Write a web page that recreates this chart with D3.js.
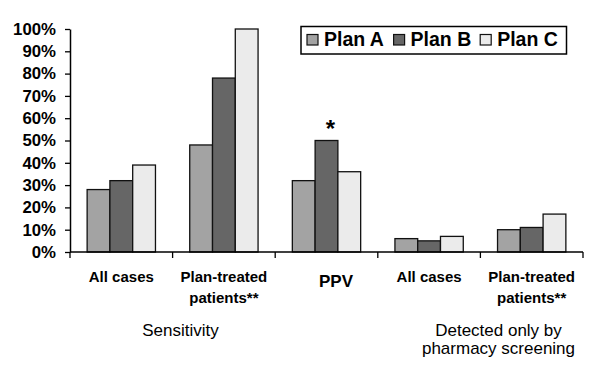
<!DOCTYPE html>
<html><head><meta charset="utf-8">
<script src="https://cdn.jsdelivr.net/npm/d3@7"></script>
<style>html,body{margin:0;padding:0;background:#fff;}svg{display:block;font-family:"Liberation Sans",Arial,sans-serif;}</style>
</head><body>
<svg id="chart" width="600" height="374"></svg>
<script>
const categoryIds = ["sens-all", "sens-plan", "ppv", "det-all", "det-plan"];
const categoryLabels = [["All cases"], ["Plan-treated", "patients**"], ["PPV"], ["All cases"], ["Plan-treated", "patients**"]];
const seriesNames = ["Plan A", "Plan B", "Plan C"];
const planA = [28, 48, 32, 6, 10];
const planB = [32, 78, 50, 5, 11];
const planC = [39, 100, 36, 7, 17];
const yTicks = [0, 10, 20, 30, 40, 50, 60, 70, 80, 90, 100];
const groupLabels = [["Sensitivity"], ["Detected only by", "pharmacy screening"]];
const colors = ["#a3a3a3", "#666666", "#ebebeb"];

const svg = d3.select("#chart");
const x0 = 70, x1 = 583, yTop = 29, yBot = 252;
const x = d3.scaleBand().domain(categoryIds).range([x0, x1]).paddingInner(0).paddingOuter(0);
const xs = d3.scaleBand().domain(seriesNames).range([0, x.bandwidth() * 0.666]);
const y = d3.scaleLinear().domain([0, 100]).range([yBot, yTop]);
const series = [planA, planB, planC];
const offset = (x.bandwidth() - x.bandwidth() * 0.666) / 2;

// bars
const g = svg.append("g");
seriesNames.forEach((s, si) => {
  g.selectAll(null).data(series[si]).join("rect")
    .attr("x", (d, i) => x(categoryIds[i]) + offset + xs(s))
    .attr("y", d => y(d))
    .attr("width", xs.bandwidth())
    .attr("height", d => y(0) - y(d))
    .attr("fill", colors[si])
    .attr("stroke", "#111")
    .attr("stroke-width", 1.3);
});

// y axis
const yAxis = svg.append("g").attr("transform", `translate(${x0},0)`)
  .call(d3.axisLeft(y).tickValues(yTicks).tickFormat(d => d + "%").tickSize(5).tickSizeOuter(0));
yAxis.select(".domain").attr("stroke", "#000").attr("stroke-width", 1.5);
yAxis.selectAll(".tick line").attr("stroke", "#000").attr("stroke-width", 1.3);
yAxis.selectAll(".tick text").attr("x", -14).attr("font-size", 16.8).attr("font-weight", "bold")
  .attr("fill", "#000").attr("font-family", "Liberation Sans, Arial, sans-serif");

// x axis
const boundaries = categoryIds.map(c => x(c)).concat([x1]);
svg.append("line").attr("x1", x0).attr("x2", x1).attr("y1", y(0)).attr("y2", y(0))
  .attr("stroke", "#000").attr("stroke-width", 1.5);
svg.selectAll(null).data(boundaries).join("line")
  .attr("x1", d => d).attr("x2", d => d).attr("y1", y(0)).attr("y2", y(0) + 6)
  .attr("stroke", "#000").attr("stroke-width", 1.3);

// category labels
categoryLabels.forEach((lines, i) => {
  const single = lines[0] === "PPV";
  const cx = x(categoryIds[i]) + x.bandwidth() / 2 + (single ? 9.5 : 0);
  const t = svg.append("text").attr("text-anchor", "middle").attr("font-weight", "bold")
    .attr("font-size", single ? 17 : 15).attr("fill", "#000");
  lines.forEach((ln, li) => {
    t.append("tspan").attr("x", cx).attr("y", (single ? 286.5 : 282) + li * 21).text(ln);
  });
});

// group labels
const groupCenters = [180.5, 498.5];
groupLabels.forEach((lines, i) => {
  const t = svg.append("text").attr("text-anchor", "middle").attr("font-size", 17).attr("fill", "#000");
  lines.forEach((ln, li) => {
    t.append("tspan").attr("x", groupCenters[i]).attr("y", 336 + li * 17.5).text(ln);
  });
});

// asterisk over PPV Plan B
svg.append("text").attr("x", x("ppv") + offset + xs("Plan B") + xs.bandwidth() / 2 + 4)
  .attr("y", y(planB[2]) - 4).attr("text-anchor", "middle").attr("font-size", 24)
  .attr("font-weight", "bold").attr("fill", "#000").text("*");

// legend
const lg = svg.append("g");
lg.append("rect").attr("x", 301).attr("y", 26.5).attr("width", 265.5).attr("height", 27.5)
  .attr("fill", "#fff").attr("stroke", "#000").attr("stroke-width", 1.5);
seriesNames.forEach((s, i) => {
  const lx = 307 + i * 86.6;
  lg.append("rect").attr("x", lx).attr("y", 34.5).attr("width", 11).attr("height", 10.5)
    .attr("fill", colors[i]).attr("stroke", "#111").attr("stroke-width", 1.2);
  lg.append("text").attr("x", lx + 17).attr("y", 46).attr("font-size", 19.5)
    .attr("font-weight", "bold").attr("fill", "#000").text(s);
});
</script>
</body></html>
